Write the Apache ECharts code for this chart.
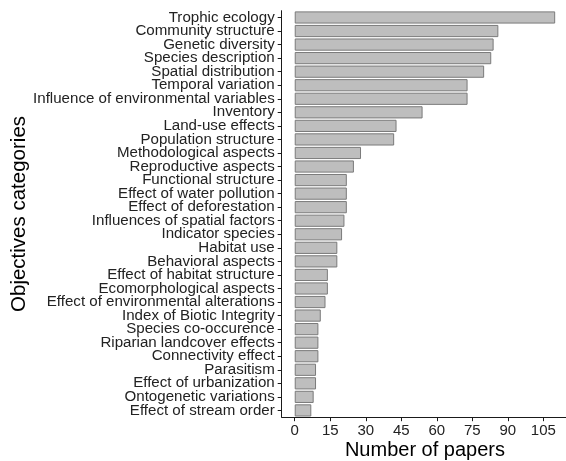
<!DOCTYPE html>
<html>
<head>
<meta charset="utf-8">
<script src="https://cdn.jsdelivr.net/npm/echarts@6/dist/echarts.min.js"></script>
<style>
  html, body { margin: 0; padding: 0; background: #ffffff; }
  #chart { width: 566px; height: 461px; }
</style>
</head>
<body>
<div id="chart"></div>
<script>
// Objective categories, listed from top to bottom
const categories = [
  'Trophic ecology', 'Community structure', 'Genetic diversity', 'Species description',
  'Spatial distribution', 'Temporal variation', 'Influence of environmental variables',
  'Inventory', 'Land-use effects', 'Population structure', 'Methodological aspects',
  'Reproductive aspects', 'Functional structure', 'Effect of water pollution',
  'Effect of deforestation', 'Influences of spatial factors', 'Indicator species',
  'Habitat use', 'Behavioral aspects', 'Effect of habitat structure',
  'Ecomorphological aspects', 'Effect of environmental alterations',
  'Index of Biotic Integrity', 'Species co-occurence', 'Riparian landcover effects',
  'Connectivity effect', 'Parasitism', 'Effect of urbanization',
  'Ontogenetic variations', 'Effect of stream order'
];

// Number of papers per category
const papers = [
  110, 86, 84, 83, 80, 73, 73, 54, 43, 42, 28, 25, 22, 22, 22,
  21, 20, 18, 18, 14, 14, 13, 11, 10, 10, 10, 9, 9, 8, 7
];

// Tick values on the count axis
const countTicks = [0, 15, 30, 45, 60, 75, 90, 105];

const chart = echarts.init(document.getElementById('chart'), null, { renderer: 'canvas' });

const axisColor = '#1a1a1a';
const fontFamily = '"Liberation Sans", Arial, Helvetica, sans-serif';

chart.setOption({
  animation: false,
  backgroundColor: '#ffffff',
  grid: {
    left: 281.7,
    top: 10.7,
    width: 286.5,
    height: 406.5,
    containLabel: false,
    outerBoundsMode: 'none'
  },
  xAxis: {
    type: 'value',
    min: -5.5,
    max: 115.5,
    name: 'Number of papers',
    nameLocation: 'middle',
    nameGap: 23,
    nameMoveOverlap: false,
    nameTextStyle: { fontSize: 20, color: '#000', fontFamily: fontFamily },
    axisLine: { show: true, onZero: false, lineStyle: { color: axisColor, width: 1 } },
    axisTick: { show: true, length: 4, customValues: countTicks, lineStyle: { color: axisColor } },
    axisLabel: {
      customValues: countTicks,
      fontSize: 15,
      color: '#222',
      margin: 6,
      fontFamily: fontFamily
    },
    splitLine: { show: false }
  },
  yAxis: {
    type: 'category',
    data: categories,
    inverse: true,
    name: 'Objectives categories',
    nameLocation: 'middle',
    nameRotate: 90,
    nameGap: 252,
    nameMoveOverlap: false,
    nameTextStyle: { fontSize: 20.5, color: '#000', fontFamily: fontFamily },
    axisLine: { show: true, onZero: false, lineStyle: { color: axisColor, width: 1 } },
    axisTick: { show: true, length: 4, alignWithLabel: true, lineStyle: { color: axisColor } },
    axisLabel: {
      fontSize: 15.1,
      color: '#222',
      margin: 7,
      interval: 0,
      fontFamily: fontFamily
    },
    splitLine: { show: false }
  },
  series: [{
    type: 'bar',
    data: papers,
    barCategoryGap: '10%',
    itemStyle: { color: '#bebebe', borderColor: '#7a7a7a', borderWidth: 1 }
  }]
});
</script>
</body>
</html>
